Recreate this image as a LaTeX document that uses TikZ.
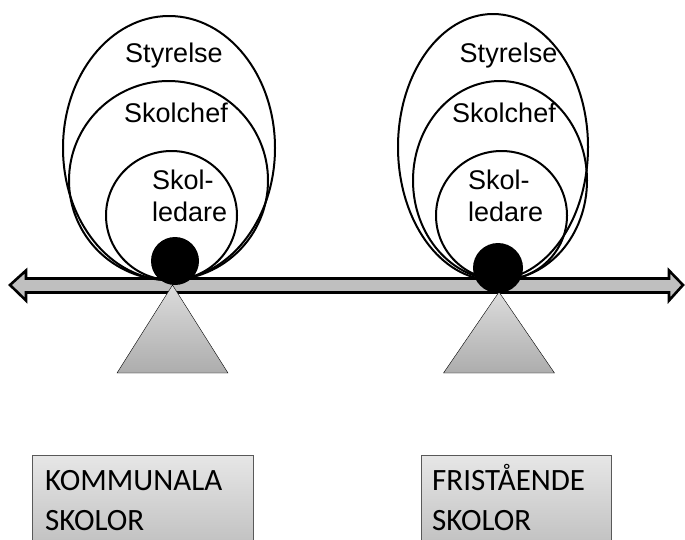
\documentclass[tikz,border=0pt]{standalone}
\usepackage{fontspec}
\setmainfont{Liberation Sans}
\newfontfamily\skyltfont{Carlito}
\usetikzlibrary{shapes.geometric}
\definecolor{balkgra}{HTML}{BFBFBF}
\definecolor{ljusgra}{HTML}{DCDCDC}
\definecolor{morkgra}{HTML}{ADADAD}
\definecolor{skyltram}{HTML}{595959}

\begin{document}
\begin{tikzpicture}[
	x=1pt, y=-1pt,
	krets/.style={
		ellipse, draw, line width=2pt,
		inner sep=0pt
	},
	boll/.style={circle, fill=black, inner sep=0pt},
	etikett/.style={font=\fontsize{27}{32}\selectfont, inner sep=0pt},
	skylt/.style={
		draw=skyltram, thin, anchor=north west,
		top color=ljusgra!70!white, bottom color=balkgra,
		font=\skyltfont\fontsize{31}{40}\selectfont,
		align=left, inner ysep=7pt
	}
	]
	\useasboundingbox (0,0) rectangle (685,539);
	\clip (0,0) rectangle (685,539);
	\draw[line width=2.6pt, fill=balkgra]
		(10,285) -- (26,270.5) -- (26,278.5) -- (669,278.5) -- (669,270.5)
		-- (683,285) -- (669,300.5) -- (669,292.5) -- (26,292.5) -- (26,300.5) -- cycle;
	\foreach \x/\y in {172.5/285, 499/292}
		\draw[thin, top color=ljusgra, bottom color=morkgra]
			(\x,\y) -- (\x+55.5,373) -- (\x-55.5,373) -- cycle;
	\node[krets, minimum width=212pt, minimum height=264pt] (S1) at (169,148) {};
	\node[krets, minimum width=199pt, minimum height=199pt] (C1) at (168.5,180.5) {};
	\node[krets, minimum width=131pt, minimum height=129pt] (L1) at (171.5,215.5) {};
	\node[krets, minimum width=190pt, minimum height=266pt] (S2) at (493,147) {};
	\node[krets, minimum width=174pt, minimum height=199pt] (C2) at (500,180.5) {};
	\node[krets, minimum width=131pt, minimum height=129pt] (L2) at (501.5,215.5) {};
	\node[boll, minimum size=48pt] (B1) at (175,261) {};
	\node[boll, minimum size=50pt] (B2) at (498,268) {};
	\node[etikett, anchor=base] (s1) at (174,62) {Styrelse};
	\node[etikett, anchor=base] (c1) at (176,122) {Skolchef};
	\node[etikett, anchor=base west, text width=90pt, align=left] (l1) at (152,189) {Skol-\\ledare};
	\node[etikett, anchor=base] (s2) at (508.5,62) {Styrelse};
	\node[etikett, anchor=base] (c2) at (504,122) {Skolchef};
	\node[etikett, anchor=base west, text width=90pt, align=left] (l2) at (468,189) {Skol-\\ledare};
	\node[skylt, text width=195pt, inner xsep=13pt] (K) at (32,455) {\strut KOMMUNALA\\SKOLOR\strut};
	\node[skylt, text width=168pt, inner xsep=11pt] (F) at (421,455) {\strut FRISTÅENDE\\SKOLOR\strut};
\end{tikzpicture}
\end{document}
